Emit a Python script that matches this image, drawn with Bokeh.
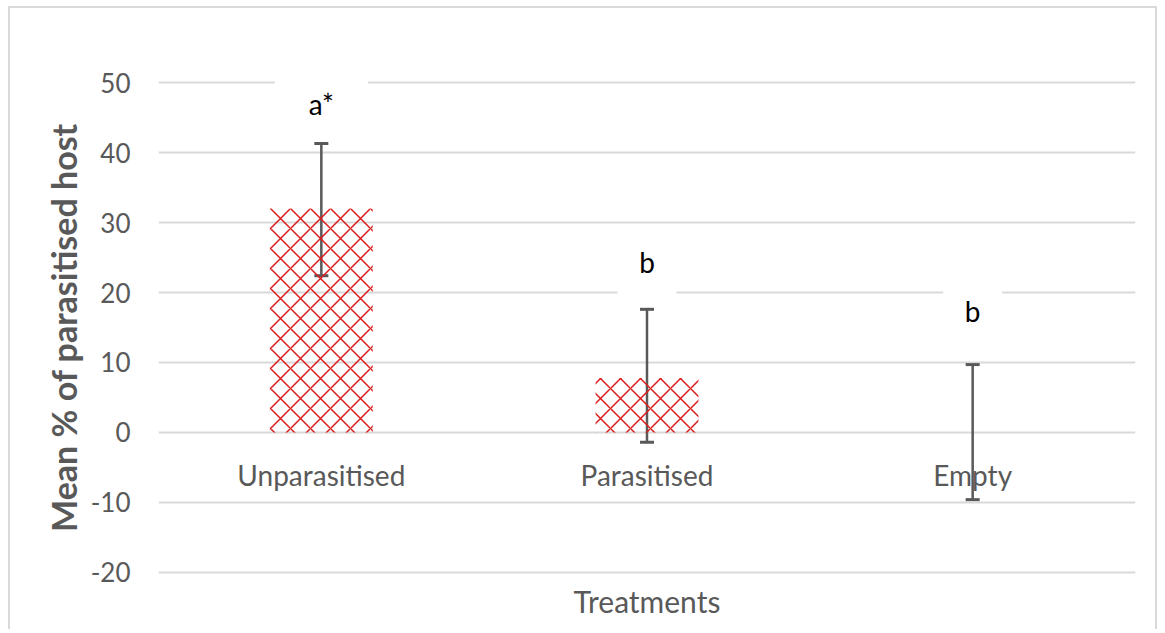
from bokeh.plotting import figure
from bokeh.models import ColumnDataSource, Whisker, TeeHead, FactorRange, Range1d, FixedTicker
from bokeh.core.properties import value
from bokeh.embed import file_html
from bokeh.resources import INLINE

# ---- data ----
categories = ["Unparasitised", "Parasitised", "Empty"]
means = [32.0, 7.8, 0.0]
err_upper = [41.3, 17.6, 9.7]
err_lower = [22.4, -1.4, -9.6]
letters = ["a*", "b", "b"]
letter_y = [47.0, 24.3, 17.4]
y_ticks = [-20, -10, 0, 10, 20, 30, 40, 50]
y_tick_labels = {t: str(t) for t in y_ticks}

FONT = "Lato"
GRAY = "#595959"

src = ColumnDataSource(dict(cat=categories, mean=means, upper=err_upper, lower=err_lower,
                            letter=letters, ly=letter_y, bw=[93, 59, 59]))

p = figure(x_range=FactorRange(*categories), y_range=Range1d(-20.3, 50.3),
           width=1149, height=623, output_backend="svg", toolbar_location=None,
           min_border_left=148, min_border_right=24, min_border_top=72, min_border_bottom=57)
p.styles = {"border-top": "2px solid #d9d9d9", "border-left": "2px solid #d9d9d9",
            "border-right": "2px solid #d9d9d9",
            "margin-left": "8px", "margin-top": "6px"}
p.outline_line_color = None
p.background_fill_color = "white"
p.border_fill_color = "white"

p.xgrid.visible = False
p.ygrid.grid_line_color = "#d9d9d9"
p.ygrid.grid_line_width = 2
p.yaxis.ticker = FixedTicker(ticks=y_ticks)
p.yaxis.major_label_overrides = y_tick_labels

p.yaxis.axis_line_color = None
p.yaxis.major_tick_line_color = None
p.yaxis.minor_tick_line_color = None
p.yaxis.major_label_standoff = 22
p.yaxis.major_label_text_font = FONT
p.yaxis.major_label_text_font_size = "26px"
p.yaxis.major_label_text_color = GRAY
p.yaxis.axis_label = "Mean % of parasitised host"
p.yaxis.axis_label_text_font = FONT
p.yaxis.axis_label_text_font_size = "34px"
p.yaxis.axis_label_text_font_style = "bold"
p.yaxis.axis_label_text_color = GRAY
p.yaxis.axis_label_standoff = 4

p.xaxis.ticker = FixedTicker(ticks=[])
p.xaxis.axis_line_color = None
p.xaxis.major_tick_line_color = None
p.xaxis.minor_tick_line_color = None
p.xaxis.major_label_standoff = 0
p.xaxis.axis_label = "Treatments"
p.xaxis.axis_label_text_font = FONT
p.xaxis.axis_label_text_font_size = "30px"
p.xaxis.axis_label_text_font_style = "normal"
p.xaxis.axis_label_text_color = GRAY
p.xaxis.axis_label_standoff = 8

# bars with crosshatch pattern
p.vbar(x="cat", top="mean", bottom=0, width=0.316, source=src,
       fill_color=None, line_color=None,
       hatch_pattern="diagonal_cross", hatch_color="#d91c1c",
       hatch_scale=20, hatch_weight=1.5)

# error bars
p.add_layout(Whisker(source=src, base="cat", upper="upper", lower="lower",
                     line_color=GRAY, line_width=2.5,
                     upper_head=TeeHead(size=14, line_color=GRAY, line_width=3),
                     lower_head=TeeHead(size=14, line_color=GRAY, line_width=3)))

# category labels at the zero line
p.text(x="cat", y=-6.1, text="cat", source=src, text_align="center",
       text_baseline="middle", text_font=value(FONT), text_font_size="28px",
       text_color=GRAY)

# significance letters with white boxes
p.rect(x="cat", y="ly", width="bw", height=64, width_units="screen",
       height_units="screen", source=src, fill_color="white", line_color=None)
p.text(x="cat", y="ly", text="letter", source=src, text_align="center",
       text_baseline="middle", text_font=value(FONT), text_font_size="28px",
       text_color="black")

open("out.html", "w").write(file_html(p, INLINE))
